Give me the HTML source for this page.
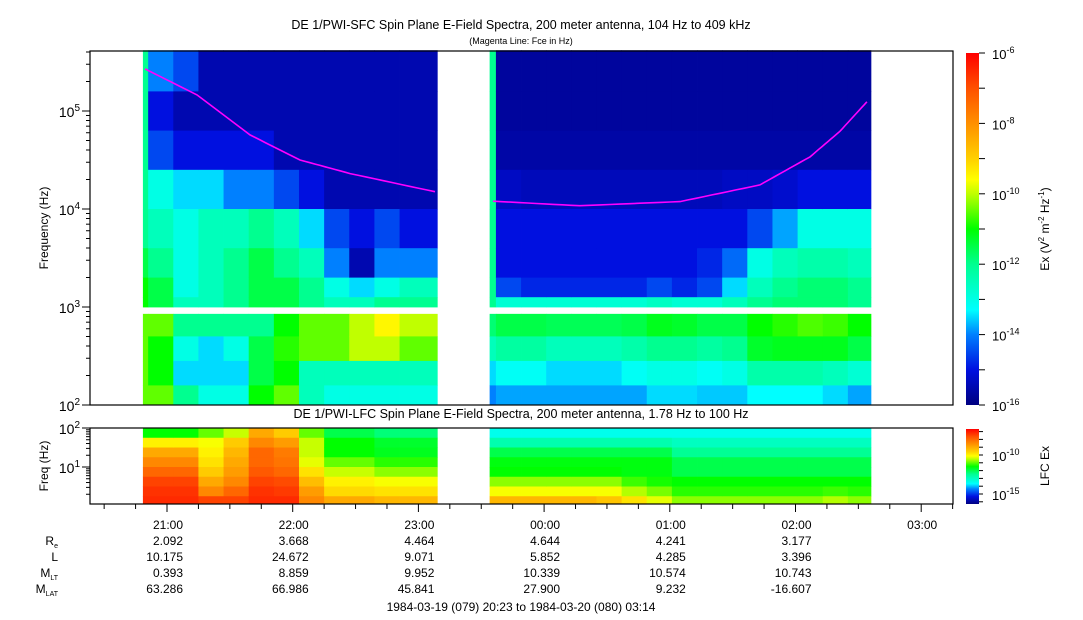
<!DOCTYPE html>
<html><head><meta charset="utf-8">
<style>
html,body{margin:0;padding:0;background:#fff;}
svg{display:block;font-family:"Liberation Sans",Arial,sans-serif;}
</style></head>
<body>
<svg id="chart" width="1083" height="620" viewBox="0 0 1083 620" xmlns="http://www.w3.org/2000/svg">
<defs>
<linearGradient id="jet" x1="0" y1="1" x2="0" y2="0">
<stop offset="0" stop-color="#000080"/><stop offset="0.1" stop-color="#0010e0"/>
<stop offset="0.2" stop-color="#0080ff"/><stop offset="0.27" stop-color="#00ffff"/>
<stop offset="0.4" stop-color="#00ff90"/><stop offset="0.5" stop-color="#00ff00"/>
<stop offset="0.6" stop-color="#c0ff00"/><stop offset="0.64" stop-color="#ffff00"/>
<stop offset="0.7" stop-color="#ffd000"/><stop offset="0.8" stop-color="#ff9000"/>
<stop offset="0.9" stop-color="#ff5000"/><stop offset="1" stop-color="#ff0000"/>
</linearGradient>
</defs>
<g id="sfc-marks"></g>
<g id="lfc-marks"></g>
<g id="fce"></g>
<g id="axes"></g>
<text x="521" y="29" font-size="12.5" text-anchor="middle">DE 1/PWI-SFC  Spin Plane E-Field Spectra, 200 meter antenna, 104 Hz to 409 kHz</text>
<text x="521" y="44" font-size="9" text-anchor="middle">(Magenta Line: Fce in Hz)</text>
<text x="521" y="418" font-size="12.5" text-anchor="middle">DE 1/PWI-LFC  Spin Plane E-Field Spectra, 200 meter antenna, 1.78 Hz to 100 Hz</text>
<text transform="translate(48,228) rotate(-90)" font-size="12" text-anchor="middle">Frequency (Hz)</text>
<text transform="translate(48,466) rotate(-90)" font-size="12" text-anchor="middle">Freq (Hz)</text>
<rect x="966" y="53" width="13" height="352" fill="url(#jet)"/>
<rect x="966" y="429" width="13" height="75" fill="url(#jet)"/>
<text transform="translate(1049,229) rotate(-90)" font-size="12" text-anchor="middle">Ex (V<tspan dy="-5" font-size="8">2</tspan><tspan dy="5"> m</tspan><tspan dy="-5" font-size="8">-2</tspan><tspan dy="5"> Hz</tspan><tspan dy="-5" font-size="8">-1</tspan><tspan dy="5">)</tspan></text>
<text transform="translate(1049,466) rotate(-90)" font-size="12" text-anchor="middle">LFC Ex</text>
<g font-size="12" text-anchor="end">
<text x="58" y="545">R<tspan font-size="7" dy="3">e</tspan></text>
<text x="58" y="561">L</text>
<text x="58" y="577">M<tspan font-size="7" dy="3">LT</tspan></text>
<text x="58" y="593">M<tspan font-size="7" dy="3">LAT</tspan></text>
</g>
<text x="521" y="611" font-size="12" text-anchor="middle">1984-03-19 (079) 20:23 to 1984-03-20 (080) 03:14</text>
<g id="bottom" font-size="12" text-anchor="end"></g>
</svg>
<script>
// ---- data ----
const sfcTimes = [48.5,51,63,75,87,99,111,123,135,147,159,171,189, 214,217,229,241,253,265,277,289,301,313,325,337,349,361,373,385,396];
const sfcBandEdges = [5.62,5.2,4.8,4.4,4.0,3.6,3.3,3.1,3.0, 2.93,2.7,2.45,2.2,2.0];
const sfcValues = [
 [-12,-12,-12,-12,-12,-11.5,-11,-11, -10.5,-10.5,-10.5,-10.5],
 [-14,-15,-14.5,-13,-12.5,-12,-11.5,-11.5, -10.5,-11,-11,-10.5],
 [-14.5,-15.5,-15,-13.5,-13,-13,-13,-12.5, -12,-13,-13.5,-12],
 [-15.5,-15.5,-15,-13.5,-12.5,-12.5,-12.5,-12.5, -12,-13.5,-13.5,-13],
 [-15.5,-15.5,-15,-14,-12.5,-12,-12,-12, -12,-13,-13.5,-13],
 [-15.5,-15.5,-15,-14,-12,-11.5,-11.5,-11.5, -12,-11.5,-11.5,-11],
 [-15.5,-15.5,-15.5,-14.5,-12.5,-12,-11.5,-11.5, -11,-10.8,-11,-10.5],
 [-15.5,-15.5,-15.5,-15,-13.5,-12.5,-12,-12, -10.5,-10.5,-12.5,-12.5],
 [-15.5,-15.5,-15.5,-15.5,-14.5,-14,-13,-12.5, -10.5,-10.5,-12.5,-13],
 [-15.5,-15.5,-15.5,-15.5,-15,-15.5,-13.5,-12.5, -10,-10,-12.5,-13],
 [-15.5,-15.5,-15.5,-15.5,-14.5,-14,-13,-12, -9.5,-10,-12.5,-13],
 [-15.5,-15.5,-15.5,-15.5,-15,-14,-12.5,-12, -10,-10.5,-12.5,-13],
 null,
 [-12,-12,-12,-12,-12,-12,-12,-12, -11.8,-12.5,-13.5,-14],
 [-15.7,-15.7,-15.6,-15.3,-15,-15,-14.5,-12.8, -11.5,-12.2,-13.2,-13.8],
 [-15.7,-15.7,-15.6,-15.4,-15,-15,-14.8,-12.8, -11.5,-12.2,-13.2,-13.8],
 [-15.7,-15.7,-15.6,-15.4,-15,-15,-14.8,-12.8, -11.6,-12.5,-13.5,-13.8],
 [-15.7,-15.7,-15.6,-15.4,-15,-15,-14.8,-12.8, -11.6,-12.5,-13.5,-13.8],
 [-15.7,-15.7,-15.6,-15.4,-15,-15,-14.8,-12.8, -11.6,-12.5,-13.5,-13.8],
 [-15.7,-15.7,-15.6,-15.4,-15,-15,-14.8,-12.8, -11.5,-12.3,-13.2,-13.8],
 [-15.7,-15.7,-15.6,-15.4,-15,-15,-14.5,-12.6, -11.2,-12,-13,-13.5],
 [-15.7,-15.7,-15.6,-15.4,-15,-15,-14.8,-12.8, -11.3,-12,-13,-13.5],
 [-15.7,-15.7,-15.6,-15.4,-15,-14.8,-14.5,-12.8, -11.5,-12.2,-13.2,-13.6],
 [-15.7,-15.7,-15.6,-15.3,-15,-14.2,-13.5,-12.5, -11.5,-12,-13,-13.6],
 [-15.7,-15.7,-15.6,-15.3,-14.5,-13,-12.5,-12, -11,-11.3,-12.3,-13.3],
 [-15.7,-15.7,-15.6,-15.2,-13.8,-12.5,-12,-11.8, -10.8,-11.2,-12.3,-13.3],
 [-15.7,-15.7,-15.6,-15,-13,-12.3,-11.8,-11.8, -10.6,-11.2,-12.3,-13.3],
 [-15.7,-15.7,-15.6,-15,-13,-12.3,-11.8,-11.8, -10.7,-11.2,-12.5,-13.5],
 [-15.7,-15.7,-15.6,-15,-13,-12.5,-12,-12, -11,-11.5,-12.8,-13.8]
];
const lfcBandEdges = [2.0,1.75,1.5,1.25,1.0,0.75,0.5,0.25,0.07];
const lfcValues = [
 [-11.5,-10,-9,-8.5,-8,-7.5,-7.3,-7.2],
 [-11.5,-10,-9,-8.5,-8,-7.5,-7.3,-7.2],
 [-11.5,-10,-9,-8.5,-8,-7.5,-7.3,-7.2],
 [-11,-10.2,-10,-9.8,-9.5,-9,-8.5,-7.5],
 [-10.5,-9.5,-9.2,-9,-8.8,-8.5,-8,-7.5],
 [-9,-8.5,-8,-8,-7.8,-7.5,-7.3,-7.2],
 [-9.5,-8.8,-8.3,-8.2,-8,-7.6,-7.4,-7.2],
 [-11,-10.5,-10.5,-10.3,-9.8,-9.3,-8.8,-8.5],
 [-12,-11.5,-11.5,-11,-10.5,-10,-9.7,-9],
 [-12,-11.5,-11.5,-11,-10.5,-10,-9.7,-9],
 [-12.3,-11.8,-11.7,-11.3,-10.8,-10.2,-9.8,-9.2],
 [-12.3,-11.8,-11.7,-11.3,-10.8,-10.2,-9.8,-9.2],
 null,
 [-13.5,-12.8,-12,-11.6,-11.5,-10.8,-10.2,-9.2],
 [-13.5,-12.8,-12,-11.6,-11.5,-10.8,-10.2,-9.2],
 [-13.5,-12.8,-12,-11.6,-11.5,-10.8,-10.2,-9.2],
 [-13.5,-12.8,-12,-11.6,-11.5,-10.8,-10.2,-9.2],
 [-13.5,-12.8,-12,-11.6,-11.5,-10.8,-10.2,-9.2],
 [-13.5,-12.8,-12,-11.6,-11.5,-10.8,-10.2,-9.4],
 [-13.5,-12.8,-12,-11.6,-11.6,-11.2,-10.6,-9.8],
 [-13.5,-12.8,-12,-11.6,-11.6,-11.4,-10.9,-10.3],
 [-13.5,-13,-12.5,-12,-12,-11.5,-11.3,-10.8],
 [-13.5,-13,-12.5,-12,-12,-11.5,-11.3,-10.8],
 [-13.5,-13,-12.5,-12,-12,-11.5,-11.3,-10.8],
 [-13.5,-13,-12.5,-12,-12,-11.5,-11.3,-10.8],
 [-13.5,-13,-12.5,-12,-12,-11.5,-11.3,-10.8],
 [-13.5,-13,-12.5,-12,-12,-11.5,-11.3,-10.8],
 [-13.5,-13,-12.5,-12,-12,-11.5,-11.2,-10.6],
 [-13.5,-13,-12.5,-12,-12,-11.5,-11.3,-10.8]
];
const fcePreT = [49.5,74.3,99.6,123.5,147.4,187.9];
const fcePreHz = [269000,146000,57000,31600,23000,15000];
const fcePostT = [215.6,257,304.9,343,366.9,381.2,394.1];
const fcePostHz = [12000,10800,11900,17600,34000,62000,124000];
const hourLabels = ["21:00","22:00","23:00","00:00","01:00","02:00","03:00"];
const reVals = ["2.092","3.668","4.464","4.644","4.241","3.177"];
const lVals = ["10.175","24.672","9.071","5.852","4.285","3.396"];
const mltVals = ["0.393","8.859","9.952","10.339","10.574","10.743"];
const mlatVals = ["63.286","66.986","45.841","27.900","9.232","-16.607"];

// ---- scales ----
const NS='http://www.w3.org/2000/svg';
const X0=90, X1=953;
function xT(t){ return 167 + (t-60)*125.7/60; }
function yS(lf){ return 111 - (lf-5)*98; }
function yL(lf){ return 428 + (2-lf)*39; }
const stops=[[0,[0,0,128]],[0.1,[0,16,224]],[0.2,[0,128,255]],[0.27,[0,255,255]],[0.4,[0,255,144]],[0.5,[0,255,0]],[0.6,[192,255,0]],[0.64,[255,255,0]],[0.7,[255,208,0]],[0.8,[255,144,0]],[0.9,[255,80,0]],[1,[255,0,0]]];
function cmap(f){
  f=Math.max(0,Math.min(1,f));
  for(let i=1;i<stops.length;i++){ if(f<=stops[i][0]){ const a=stops[i-1],b=stops[i],u=(f-a[0])/(b[0]-a[0]);
    const c=a[1].map((v,k)=>Math.round(v+(b[1][k]-v)*u)); return `rgb(${c[0]},${c[1]},${c[2]})`; } }
  return 'rgb(255,0,0)';
}
function mk(tag,attrs,parent){ const e=document.createElementNS(NS,tag); for(const k in attrs) e.setAttribute(k,attrs[k]); parent.appendChild(e); return e; }

const gS=document.getElementById('sfc-marks');
for(let c=0;c<sfcValues.length;c++){
  const col=sfcValues[c]; if(!col) continue;
  const xa=xT(sfcTimes[c]), xb=xT(sfcTimes[c+1]);
  for(let b=0;b<col.length;b++){
    let e0,e1;
    if(b<8){ e0=sfcBandEdges[b]; e1=sfcBandEdges[b+1]; } else { e0=sfcBandEdges[b+1]; e1=sfcBandEdges[b+2]; }
    const ya=yS(e0), yb=yS(e1);
    const r=mk('rect',{x:xa.toFixed(2),y:ya.toFixed(2),width:(xb-xa+0.4).toFixed(2),height:(yb-ya+0.4).toFixed(2),fill:cmap((col[b]+16)/10)},gS);
    
    
  }
}
const gL=document.getElementById('lfc-marks');
for(let c=0;c<lfcValues.length;c++){
  const col=lfcValues[c]; if(!col) continue;
  const xa=xT(sfcTimes[c]), xb=xT(sfcTimes[c+1]);
  for(let b=0;b<col.length;b++){
    const ya=yL(lfcBandEdges[b]), yb=yL(lfcBandEdges[b+1]);
    const r=mk('rect',{x:xa.toFixed(2),y:ya.toFixed(2),width:(xb-xa+0.4).toFixed(2),height:(yb-ya+0.4).toFixed(2),fill:cmap((col[b]+16.3)/9.6)},gL);
    
    
  }
}
// fce lines
const gF=document.getElementById('fce');
[[fcePreT,fcePreHz],[fcePostT,fcePostHz]].forEach(([T,H])=>{
  let d='';
  for(let i=0;i<T.length-1;i++){
    for(let s=0;s<=10;s++){
      const u=s/10, t=T[i]+(T[i+1]-T[i])*u;
      const lf=Math.log10(H[i])+(Math.log10(H[i+1])-Math.log10(H[i]))*u;
      d+=(d?'L':'M')+xT(t).toFixed(1)+' '+yS(lf).toFixed(1);
    }
  }
  const p=mk('path',{d:d,fill:'none',stroke:'#ff00ff','stroke-width':1.6},gF);
  
  
});
// axes
const gA=document.getElementById('axes');
const f1=mk('rect',{x:X0,y:51,width:X1-X0,height:354,fill:'none',stroke:'#000','stroke-width':1.2},gA);


const f2=mk('rect',{x:X0,y:428,width:X1-X0,height:76,fill:'none',stroke:'#000','stroke-width':1.2},gA);


for(let dec=2;dec<=5;dec++){
  for(let m=1;m<10;m++){
    const lf=dec+Math.log10(m); if(lf>5.62) break;
    const y=yS(lf);
    mk('line',{x1:X0-(m==1?8:4),x2:X0,y1:y,y2:y,stroke:'#000'},gA);
  }
  const t=mk('text',{x:80,y:yS(dec)+6,'font-size':14,'text-anchor':'end'},gA);
  t.innerHTML='10<tspan dy="-6" font-size="10">'+dec+'</tspan>';
  
  
}
for(let dec=0;dec<=2;dec++){
  for(let m=1;m<10;m++){
    const lf=dec+Math.log10(m); if(lf>2.001||lf<0.07) continue;
    const y=yL(lf);
    mk('line',{x1:X0-(m==1?8:4),x2:X0,y1:y,y2:y,stroke:'#000'},gA);
  }
  if(dec>=1){
    const t=mk('text',{x:80,y:yL(dec)+6,'font-size':14,'text-anchor':'end'},gA);
    t.innerHTML='10<tspan dy="-6" font-size="10">'+dec+'</tspan>';
    
    
  }
}
for(let t=30;t<=435;t+=15){
  const x=xT(t); if(x<X0||x>X1) continue;
  const major=(t%60===0);
  mk('line',{x1:x,x2:x,y1:504,y2:504+(major?8:5),stroke:'#000'},gA);
}
for(let e=-16;e<=-6;e++){
  const y=405-(e+16)*35.2;
  mk('line',{x1:979,x2:985,y1:y,y2:y,stroke:'#000'},gA);
  if(e%2===0){
    const t=mk('text',{x:992,y:y+6,'font-size':13},gA);
    t.innerHTML='10<tspan dy="-6" font-size="9">'+e+'</tspan>';
    
    
  }
}
for(let e=-16;e<=-7;e++){
  const y=494-(e+15)*7.8; if(y<429||y>504) continue;
  mk('line',{x1:979,x2:983,y1:y,y2:y,stroke:'#000'},gA);
  if(e===-10||e===-15){
    const t=mk('text',{x:992,y:y+6,'font-size':13},gA);
    t.innerHTML='10<tspan dy="-6" font-size="9">'+e+'</tspan>';
    
    
  }
}
const gB=document.getElementById('bottom');
hourLabels.forEach((h,i)=>{
  const x=xT(60+i*60)+16;
  const rows=[h,reVals[i],lVals[i],mltVals[i],mlatVals[i]];
  rows.forEach((v,r)=>{ if(v===undefined) return;
    const t=mk('text',{x:x,y:529+r*16},gB); t.textContent=v;
    
    
  });
});
</script>
</body></html>
